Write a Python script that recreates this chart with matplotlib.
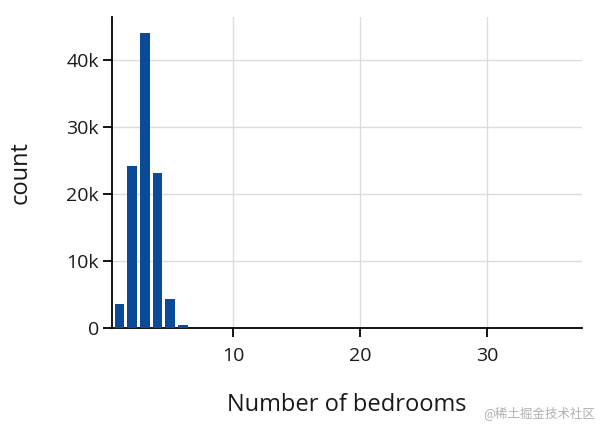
import matplotlib.pyplot as plt
from matplotlib.ticker import FuncFormatter

# Histogram counts (bin width 1, centred on each value)
bedrooms = [1, 2, 3, 4, 5, 6, 7, 8, 9, 10, 11, 33]
counts = [3600, 24200, 44000, 23100, 4300, 450, 60, 20, 8, 4, 2, 1]

x_ticks = [10, 20, 30]
y_ticks = [0, 10000, 20000, 30000, 40000]

bar_color = '#0b4a98'

plt.rcParams['font.family'] = ['Open Sans', 'DejaVu Sans']

fig = plt.figure(figsize=(6, 4.28), dpi=100)
ax = fig.add_axes([0.1867, 0.2336, 0.7833, 0.7267])

ax.bar(bedrooms, counts, width=0.76, color=bar_color, zorder=3)

ax.set_xlim(0.42, 37.5)
ax.set_ylim(0, 46400)
ax.set_xticks(x_ticks)
ax.set_yticks(y_ticks)
ax.yaxis.set_major_formatter(FuncFormatter(lambda v, p: '0' if v == 0 else f'{int(v / 1000)}k'))

ax.grid(True, color='#dcdcdc', linewidth=1, zorder=0)
for side in ['top', 'right']:
    ax.spines[side].set_visible(False)
for side in ['left', 'bottom']:
    ax.spines[side].set_color('black')
    ax.spines[side].set_linewidth(1.3)

ax.tick_params(axis='both', direction='out', length=6.5, width=1.3, color='black',
               labelsize=14, labelcolor='#1a1a1a', pad=3)
ax.tick_params(axis='x', pad=7)

ax.set_xlabel('Number of bedrooms', fontsize=17, color='#1a1a1a', labelpad=20)
ax.set_ylabel('count', fontsize=17, color='#1a1a1a', labelpad=24)

fig.text(0.992, 0.035, '@稀土掘金技术社区', ha='right', va='center', fontsize=9,
         color='#b0b0b0', family=['Noto Sans CJK SC', 'DejaVu Sans'])

fig.savefig('out.png', dpi=100)
